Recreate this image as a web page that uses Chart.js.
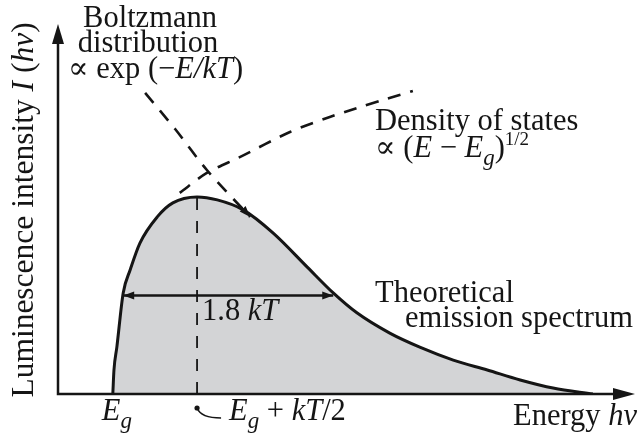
<!DOCTYPE html>
<html>
<head>
<meta charset="utf-8">
<script src="https://cdn.jsdelivr.net/npm/chart.js@4.4.1/dist/chart.umd.min.js"></script>
<style>
  html, body { margin: 0; padding: 0; background: #fff; }
  canvas { display: block; }
</style>
</head>
<body>
<canvas id="spectrum" width="643" height="440"></canvas>
<script>
// Energy (x) and intensity (y) are in arbitrary units, both on 0..100.
const E_GAP = 9.5;          // band gap, where emission starts
const E_PEAK = 24.1;        // Eg + kT/2
const PEAK_I = 53.4;

// theoretical emission spectrum
const spectrumE = [9.5, 9.7, 10.2, 11.3, 12.5, 14.2, 17.2, 19.9, 24.1, 27.6, 32.1,
                   37.3, 43.2, 47.7, 51.8, 57.5, 62.7, 68.5, 74.4, 80.1, 85.8, 92.7];
const spectrumI = [0, 6.5, 12.7, 27.4, 33.6, 40.9, 48.0, 51.8, 53.4, 52.6, 49.9,
                   43.6, 34.4, 27.4, 22.0, 16.5, 12.7, 9.2, 6.5, 3.8, 1.6, 0];

// Boltzmann factor, exp(-E/kT)
const boltzE = [15.1, 20.3, 25.8, 33.3];
const boltzI = [81.6, 71.8, 60.7, 48.0];

// density of states, (E - Eg)^1/2
const dosE = [21.1, 25.8, 31.5, 40.2, 46.6, 51.8, 56.3, 61.5];
const dosI = [54.5, 59.9, 64.2, 71.0, 74.8, 77.5, 79.7, 82.1];

// full width at half maximum (1.8 kT)
const fwhmE = [11.3, 47.7];

const INK = '#151515';
const SERIF = '"Liberation Serif", "DejaVu Serif", serif';

const pts = (xs, ys) => xs.map((x, i) => ({ x, y: ys[i] }));

// draw a row of text runs; each run may be italic, subscript or superscript
function drawRuns(ctx, runs, x, y, size, align) {
  const fontFor = r => {
    const s = r.sub || r.sup ? Math.round(size * (r.sub ? 0.75 : 0.62)) : size;
    return (r.it ? 'italic ' : '') + s + 'px ' + SERIF;
  };
  let total = 0;
  runs.forEach(r => { ctx.font = fontFor(r); total += ctx.measureText(r.t).width; });
  let cx = align === 'center' ? x - total / 2 : x;
  ctx.textAlign = 'left';
  ctx.textBaseline = 'alphabetic';
  runs.forEach(r => {
    ctx.font = fontFor(r);
    const dy = r.sub ? size * 0.26 : r.sup ? -size * 0.4 : 0;
    ctx.fillText(r.t, cx, y + dy);
    cx += ctx.measureText(r.t).width;
  });
}

function arrowHead(ctx, tipX, tipY, angle, len, half) {
  ctx.save();
  ctx.translate(tipX, tipY);
  ctx.rotate(angle);
  ctx.beginPath();
  ctx.moveTo(0, 0);
  ctx.lineTo(-len, -half);
  ctx.lineTo(-len, half);
  ctx.closePath();
  ctx.fill();
  ctx.restore();
}

const decorations = {
  id: 'decorations',
  afterDatasetsDraw(chart) {
    const ctx = chart.ctx;
    const xs = chart.scales.x, ys = chart.scales.y;
    const X = v => xs.getPixelForValue(v);
    const Y = v => ys.getPixelForValue(v);
    ctx.save();
    ctx.strokeStyle = INK;
    ctx.fillStyle = INK;

    // axes with arrow tips
    ctx.lineWidth = 2.5;
    ctx.setLineDash([]);
    ctx.beginPath();
    ctx.moveTo(X(0), Y(100) + 10);
    ctx.lineTo(X(0), Y(0));
    ctx.lineTo(X(100) - 10, Y(0));
    ctx.stroke();
    arrowHead(ctx, X(0), Y(100) - 1, -Math.PI / 2, 20, 6);
    arrowHead(ctx, X(100), Y(0), 0, 22, 6);

    // heads of the 1.8 kT arrow
    const hy = Y(PEAK_I / 2);
    arrowHead(ctx, X(fwhmE[0]), hy, Math.PI, 11, 4);
    arrowHead(ctx, X(fwhmE[1]), hy, 0, 11, 4);

    // head at the end of the Boltzmann curve
    const n = boltzE.length;
    const ang = Math.atan2(Y(boltzI[n - 1]) - Y(boltzI[n - 2]), X(boltzE[n - 1]) - X(boltzE[n - 2]));
    arrowHead(ctx, X(boltzE[n - 1]), Y(boltzI[n - 1]), ang, 11, 4);

    // leader from the peak position to its label
    const bx = X(E_PEAK), by = Y(0) + 14;
    ctx.beginPath();
    ctx.arc(bx, by, 2.6, 0, Math.PI * 2);
    ctx.fill();
    ctx.lineWidth = 1.6;
    ctx.beginPath();
    ctx.moveTo(bx, by);
    ctx.quadraticCurveTo(bx + 4, by + 10, bx + 24, by + 10);
    ctx.stroke();

    // labels
    const F = 30.5;
    drawRuns(ctx, [{ t: 'Boltzmann' }], 150, 27, F, 'center');
    drawRuns(ctx, [{ t: 'distribution' }], 148, 52, F, 'center');
    drawRuns(ctx, [{ t: '\u221D exp (\u2212' }, { t: 'E/kT', it: true }, { t: ')' }], 68, 78, F);

    drawRuns(ctx, [{ t: 'Density of states' }], 375, 130, F);
    drawRuns(ctx, [{ t: '\u221D (' }, { t: 'E', it: true }, { t: ' \u2212 ' }, { t: 'E', it: true },
                   { t: 'g', it: true, sub: true }, { t: ')' }, { t: '1/2', sup: true }], 375, 157, F);

    drawRuns(ctx, [{ t: 'Theoretical' }], 375, 302, F);
    drawRuns(ctx, [{ t: 'emission spectrum' }], 405, 327, F);

    drawRuns(ctx, [{ t: '1.8 ' }, { t: 'kT', it: true }], X(E_PEAK) + 5, 320, F);

    drawRuns(ctx, [{ t: 'E', it: true }, { t: 'g', it: true, sub: true }], X(E_GAP) - 11, 420, F);
    drawRuns(ctx, [{ t: 'E', it: true }, { t: 'g', it: true, sub: true }, { t: ' + ' },
                   { t: 'kT', it: true }, { t: '/2' }], X(E_PEAK) + 32, 420, F);

    drawRuns(ctx, [{ t: 'Energy ' }, { t: 'h\u03BD', it: true }], 513, 425, F);

    // vertical axis title
    ctx.save();
    ctx.translate(33, 210);
    ctx.rotate(-Math.PI / 2);
    drawRuns(ctx, [{ t: 'Luminescence intensity ' }, { t: 'I', it: true }, { t: ' (' },
                   { t: 'h\u03BD', it: true }, { t: ')' }], 0, 0, 31.5, 'center');
    ctx.restore();

    ctx.restore();
  }
};

new Chart(document.getElementById('spectrum'), {
  type: 'scatter',
  data: {
    datasets: [
      {
        label: 'Boltzmann distribution',
        data: pts(boltzE, boltzI),
        showLine: true,
        borderColor: INK,
        borderWidth: 2.6,
        borderDash: [13, 10],
        tension: 0.3,
        pointRadius: 0,
      },
      {
        label: 'Density of states',
        data: pts(dosE, dosI),
        showLine: true,
        borderColor: INK,
        borderWidth: 2.6,
        borderDash: [13, 10],
        tension: 0.3,
        pointRadius: 0,
      },
      {
        label: 'Eg + kT/2',
        data: [{ x: E_PEAK, y: 0 }, { x: E_PEAK, y: PEAK_I }],
        showLine: true,
        borderColor: INK,
        borderWidth: 1.8,
        borderDash: [12, 11],
        pointRadius: 0,
      },
      {
        label: '1.8 kT',
        data: [{ x: fwhmE[0], y: PEAK_I / 2 }, { x: fwhmE[1], y: PEAK_I / 2 }],
        showLine: true,
        borderColor: INK,
        borderWidth: 2.4,
        pointRadius: 0,
      },
      {
        label: 'Theoretical emission spectrum',
        data: pts(spectrumE, spectrumI),
        showLine: true,
        borderColor: INK,
        borderWidth: 3,
        backgroundColor: '#d3d4d6',
        fill: 'origin',
        cubicInterpolationMode: 'monotone',
        pointRadius: 0,
      },
    ],
  },
  options: {
    responsive: false,
    animation: false,
    layout: { padding: { left: 58, right: 8, top: 25, bottom: 46 } },
    plugins: {
      legend: { display: false },
      tooltip: { enabled: false },
    },
    scales: {
      x: { type: 'linear', min: 0, max: 100, display: false },
      y: { type: 'linear', min: 0, max: 100, display: false },
    },
  },
  plugins: [decorations],
});
</script>
</body>
</html>
